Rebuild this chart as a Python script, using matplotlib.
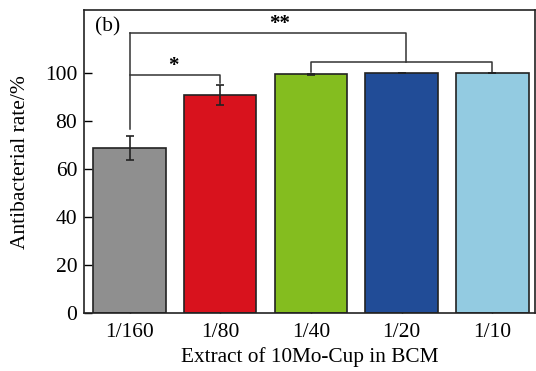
import matplotlib
matplotlib.use("Agg")
import matplotlib.pyplot as plt

categories = ["1/160", "1/80", "1/40", "1/20", "1/10"]
values = [68.5, 90.7, 99.2, 100.0, 100.0]
errors = [5.0, 4.0, 0.4, 0.0, 0.0]
colors = ["#8f8f8f", "#d8121d", "#84bd1f", "#214c97", "#93cbe1"]

plt.rcParams["font.family"] = ["Liberation Serif", "DejaVu Serif"]

fig = plt.figure(figsize=(5.36, 3.71), dpi=100)
ax = fig.add_axes([0.157, 0.156, 0.841, 0.817])
x = list(range(len(categories)))
ax.bar(x, values, width=0.8, color=colors, edgecolor="#222222", linewidth=1.2, zorder=2)
ax.errorbar(x, values, yerr=errors, fmt="none", ecolor="#222222", elinewidth=1.2,
            capsize=3, capthick=1.2, zorder=3)

ax.set_xlim(-0.5, 4.47)
ax.set_ylim(0, 126)
ax.set_yticks([0, 20, 40, 60, 80, 100])
ax.set_xticks(x)
ax.set_xticklabels(categories)
ax.tick_params(axis="both", direction="in", labelsize=15.5, width=1.0)
ax.tick_params(axis="y", length=6, pad=5)
ax.tick_params(axis="x", length=4, pad=7)
for s in ax.spines.values():
    s.set_linewidth(1.2)
    s.set_color("#222222")

ax.set_xlabel("Extract of 10Mo-Cup in BCM", fontsize=15.3, labelpad=4)
ax.set_ylabel("Antibacterial rate/%", fontsize=15.5, labelpad=11)

lc = "#333333"
lw = 1.1
# * bracket
ax.plot([0, 0], [76.6, 116.4], color=lc, lw=lw)
ax.plot([0, 1, 1], [98.8, 98.8, 95.5], color=lc, lw=lw)
ax.text(0.48, 102.8, "*", ha="center", va="center", fontsize=15, fontweight="bold")
# ** bracket
ax.plot([0, 3.05, 3.05], [116.4, 116.4, 104.5], color=lc, lw=lw)
ax.plot([2, 2, 4, 4], [100.3, 104.5, 104.5, 100.3], color=lc, lw=lw)
ax.text(1.66, 120.0, "**", ha="center", va="center", fontsize=15, fontweight="bold")

ax.text(-0.38, 123, "(b)", ha="left", va="top", fontsize=15.5)

fig.savefig("out.png", dpi=100)
